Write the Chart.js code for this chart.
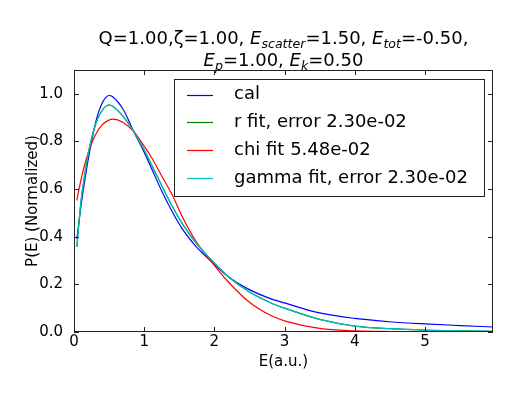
<!DOCTYPE html>
<html>
<head>
<meta charset="utf-8">
<script src="https://cdn.jsdelivr.net/npm/chart.js@4.4.1/dist/chart.umd.min.js"></script>
<style>
  body { margin: 0; background: #fff; }
  #wrap { position: relative; width: 512px; height: 398px; }
  #ttl {
    position: absolute; left: 74px; width: 419px; top: 27px;
    text-align: center; font-family: "DejaVu Sans"; font-size: 18px; line-height: 22px; color: #000;
  }
  #ttl i { font-family: "DejaVu Sans"; }
  #ttl sub { font-size: 70%; vertical-align: baseline; position: relative; top: 0.3em; line-height: 0; }
</style>
</head>
<body>
<div id="wrap">
  <canvas id="ctx" width="512" height="398"></canvas>
  <div id="ttl">Q=1.00,ζ=1.00, <i>E</i><sub><i>scatter</i></sub>=1.50, <i>E</i><sub><i>tot</i></sub>=-0.50,<br><i>E</i><sub><i>p</i></sub>=1.00, <i>E</i><sub><i>k</i></sub>=0.50</div>
</div>
<script>
const energy = [0.04, 0.1, 0.15, 0.2, 0.3, 0.4, 0.5, 0.55, 0.7, 0.85, 1.0, 1.1, 1.25, 1.4, 1.55, 1.75, 1.95, 2.2, 2.5, 2.8, 3.0, 3.5, 4.0, 4.5, 5.0, 5.5, 5.97];
const cal   = [0.39, 0.53, 0.63, 0.72, 0.87, 0.96, 0.993, 0.988, 0.935, 0.842, 0.755, 0.69, 0.592, 0.505, 0.43, 0.355, 0.298, 0.232, 0.178, 0.14, 0.122, 0.08, 0.057, 0.043, 0.034, 0.027, 0.021];
const rFit  = [0.357, 0.55, 0.655, 0.745, 0.865, 0.93, 0.953, 0.948, 0.905, 0.842, 0.765, 0.705, 0.615, 0.528, 0.452, 0.37, 0.305, 0.232, 0.168, 0.123, 0.1, 0.053, 0.025, 0.014, 0.008, 0.005, 0.003];
const chiFit = [0.553, 0.64, 0.70, 0.75, 0.825, 0.87, 0.89, 0.894, 0.88, 0.842, 0.78, 0.735, 0.655, 0.575, 0.48, 0.375, 0.298, 0.21, 0.125, 0.07, 0.047, 0.015, 0.005, 0.002, 0.001, 0, 0];
const gammaFit = [0.357, 0.55, 0.655, 0.745, 0.865, 0.93, 0.953, 0.948, 0.905, 0.842, 0.765, 0.705, 0.615, 0.528, 0.452, 0.37, 0.305, 0.232, 0.168, 0.123, 0.1, 0.053, 0.025, 0.014, 0.008, 0.005, 0.003];
const labels = ['cal', 'r fit, error 2.30e-02', 'chi fit 5.48e-02', 'gamma fit, error 2.30e-02'];
const colors = ['#0000ff', '#008000', '#ff0000', '#00bfbf'];

const series = [cal, rFit, chiFit, gammaFit];
const font = 'DejaVu Sans';

// inner ticks, frame and boxed legend like matplotlib classic
const mplAxes = {
    id: 'mplAxes',
    afterDatasetsDraw(chart) {
        const c = chart.ctx;
        const a = chart.chartArea;
        const xs = chart.scales.x, ys = chart.scales.y;
        c.save();
        c.strokeStyle = '#222';
        c.lineWidth = 1;
        c.beginPath();
        xs.ticks.forEach(t => {
            let p = Math.round(xs.getPixelForValue(t.value)) + 0.5;
            c.moveTo(p, a.bottom); c.lineTo(p, a.bottom - 5);
            c.moveTo(p, a.top); c.lineTo(p, a.top + 5);
        });
        ys.ticks.forEach(t => {
            let p = Math.round(ys.getPixelForValue(t.value)) + 0.5;
            c.moveTo(a.left, p); c.lineTo(a.left + 5, p);
            c.moveTo(a.right, p); c.lineTo(a.right - 5, p);
        });
        c.stroke();
        c.strokeRect(a.left + 0.5, a.top + 0.5, a.right - a.left - 1, a.bottom - a.top - 1);

        // legend
        const lx = 174, ly = 79, lw = 310, lh = 117;
        c.fillStyle = '#fff';
        c.fillRect(lx, ly, lw, lh);
        c.strokeRect(lx + 0.5, ly + 0.5, lw, lh);
        c.font = '18px "' + font + '"';
        c.textBaseline = 'middle';
        chart.data.datasets.forEach((ds, i) => {
            let y = 94.5 + i * 27.8;
            c.strokeStyle = ds.borderColor;
            c.lineWidth = 1.2;
            c.beginPath();
            c.moveTo(187, Math.round(y) + 0.5); c.lineTo(213, Math.round(y) + 0.5);
            c.stroke();
            c.fillStyle = '#000';
            c.fillText(ds.label, 234, y);
        });
        c.restore();
    }
};

new Chart(document.getElementById('ctx'), {
    type: 'line',
    data: {
        datasets: series.map((s, i) => ({
            label: labels[i],
            data: s.map((v, j) => ({x: energy[j], y: v})),
            borderColor: colors[i],
            borderWidth: 1.2,
            pointRadius: 0,
            order: series.length - i,
            cubicInterpolationMode: 'monotone',
            fill: false
        }))
    },
    options: {
        responsive: false,
        animation: false,
        layout: {padding: {top: 70, right: 19, left: 0, bottom: 0}},
        plugins: {legend: {display: false}, tooltip: {enabled: false}},
        scales: {
            x: {
                type: 'linear', min: 0, max: 5.97,
                grid: {display: false, drawTicks: false},
                border: {display: false},
                ticks: {stepSize: 1, includeBounds: false, padding: 1, color: '#000', font: {family: font, size: 15},
                    callback: v => v.toFixed(0)},
                title: {display: true, text: 'E(a.u.)', color: '#000', font: {family: font, size: 15}, padding: {bottom: 27}},
                afterFit: s => { s.height = 66; }
            },
            y: {
                min: 0, max: 1.1,
                grid: {display: false, drawTicks: false},
                border: {display: false},
                ticks: {stepSize: 0.2, includeBounds: false, padding: 11, color: '#000', font: {family: font, size: 15},
                    callback: v => v.toFixed(1)},
                title: {display: true, text: 'P(E) (Normalized)', color: '#000', font: {family: font, size: 15}, padding: {top: 24}},
                afterFit: s => { s.width = 74; }
            }
        }
    },
    plugins: [mplAxes]
});
</script>
</body>
</html>
